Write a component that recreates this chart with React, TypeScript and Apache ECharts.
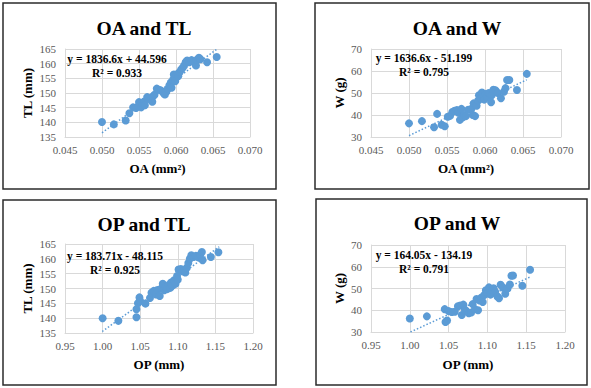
import React, { useEffect, useRef } from "react";
import * as echarts from "echarts";

// ---- Data ----
const oaTL: number[][] = [
  [0.0500,140.1],[0.0516,139.3],[0.0532,140.6],[0.0537,143.1],[0.0542,145.1],[0.0546,144.9],[0.0549,145.5],[0.0550,146.9],
  [0.0553,145.1],[0.0555,146.3],[0.0557,147.1],[0.0558,145.8],[0.0561,148.6],[0.0563,148.2],[0.0566,147.6],[0.0568,147.0],
  [0.0569,148.9],[0.0571,149.4],[0.0574,151.5],[0.0577,151.1],[0.0580,150.8],[0.0583,150.0],[0.0585,149.5],[0.0587,150.4],
  [0.0589,151.4],[0.0591,152.6],[0.0593,153.6],[0.0594,151.8],[0.0596,154.5],[0.0597,156.3],[0.0599,154.0],[0.0601,156.4],
  [0.0603,155.7],[0.0605,157.2],[0.0607,158.0],[0.0609,158.6],[0.0611,159.4],[0.0613,160.5],[0.0615,161.1],[0.0618,160.5],
  [0.0621,161.2],[0.0624,160.6],[0.0627,159.4],[0.0628,161.3],[0.0631,162.0],[0.0633,161.5],[0.0642,160.5],[0.0655,162.3]
];
const oaW: number[][] = [
  [0.0500,36.2],[0.0517,37.2],[0.0533,34.4],[0.0537,40.5],[0.0543,35.6],[0.0547,34.9],[0.0551,39.2],[0.0554,39.6],
  [0.0557,41.4],[0.0560,41.9],[0.0563,42.2],[0.0565,41.0],[0.0567,37.8],[0.0569,42.8],[0.0571,39.0],[0.0573,40.0],
  [0.0575,39.5],[0.0578,42.4],[0.0582,42.8],[0.0584,40.0],[0.0585,45.3],[0.0587,39.5],[0.0589,44.2],[0.0591,46.6],
  [0.0592,49.0],[0.0594,47.5],[0.0596,50.2],[0.0597,48.3],[0.0599,47.0],[0.0601,49.5],[0.0603,48.2],[0.0605,50.0],
  [0.0608,45.8],[0.0609,49.0],[0.0611,51.5],[0.0614,51.2],[0.0617,50.0],[0.0621,47.6],[0.0625,50.6],[0.0627,52.2],
  [0.0629,55.9],[0.0632,55.9],[0.0642,51.4],[0.0655,58.7]
];
const opTL: number[][] = [
  [1.000,140.0],[1.021,139.1],[1.045,140.3],[1.045,143.0],[1.047,145.0],[1.049,147.0],[1.050,145.8],[1.057,144.9],
  [1.063,146.8],[1.065,148.6],[1.068,149.2],[1.071,148.0],[1.073,149.5],[1.076,147.5],[1.078,150.0],[1.080,151.6],
  [1.082,149.4],[1.084,150.6],[1.086,149.8],[1.088,151.2],[1.090,150.2],[1.091,152.0],[1.093,151.0],[1.095,152.8],
  [1.097,151.6],[1.099,154.2],[1.100,153.0],[1.101,156.4],[1.104,156.6],[1.106,155.8],[1.108,156.2],[1.110,155.4],
  [1.112,157.0],[1.114,158.6],[1.116,160.0],[1.118,161.2],[1.121,160.6],[1.124,161.0],[1.127,160.5],[1.130,161.5],
  [1.132,162.3],[1.133,159.5],[1.144,160.6],[1.154,162.2]
];
const opW: number[][] = [
  [1.000,36.2],[1.022,37.2],[1.045,40.5],[1.046,34.6],[1.048,35.3],[1.050,39.6],[1.054,39.2],[1.058,39.3],
  [1.062,41.8],[1.065,42.2],[1.067,37.8],[1.069,42.6],[1.071,40.2],[1.073,39.5],[1.076,38.6],[1.079,39.0],
  [1.081,42.8],[1.084,40.5],[1.086,45.2],[1.088,40.0],[1.090,44.5],[1.092,45.8],[1.094,43.8],[1.096,47.0],
  [1.098,49.2],[1.100,48.0],[1.102,50.5],[1.104,47.2],[1.106,49.3],[1.108,50.1],[1.110,48.5],[1.113,46.3],
  [1.115,45.5],[1.117,51.7],[1.120,50.5],[1.123,47.6],[1.126,50.0],[1.129,51.8],[1.131,55.9],[1.133,56.0],
  [1.145,51.3],[1.155,58.6]
];

const titles = ["OA and TL", "OA and W", "OP and TL", "OP and W"];
const xNames = ["OA (mm\u00B2)", "OA (mm\u00B2)", "OP (mm)", "OP (mm)"];
const yNames = ["TL (mm)", "W (g)", "TL (mm)", "W (g)"];
const equations = ["y = 1836.6x + 44.596", "y = 1636.6x - 51.199", "y = 183.71x - 48.115", "y = 164.05x - 134.19"];
const r2Labels = ["R\u00B2 = 0.933", "R\u00B2 = 0.795", "R\u00B2 = 0.925", "R\u00B2 = 0.791"];
const slopes = [1836.6, 1636.6, 183.71, 164.05];
const intercepts = [44.596, -51.199, -48.115, -134.19];
const trendX = [[0.0500, 0.06556], [0.0500, 0.0655], [0.9995, 1.155], [1.0009, 1.155]];
const xRanges = [[0.045, 0.07, 0.005], [0.045, 0.07, 0.005], [0.95, 1.2, 0.05], [0.95, 1.2, 0.05]];
const yRanges = [[135, 165, 5], [30, 70, 10], [135, 165, 5], [30, 70, 10]];
const datasets = [oaTL, oaW, opTL, opW];

const FONT = "Times New Roman, Liberation Serif, serif";
const BLUE = "#5b9bd5";

// layout (px)
const grids = [
  { left: 65, top: 49, width: 185, height: 88 },
  { left: 371, top: 49, width: 190, height: 88 },
  { left: 65, top: 244, width: 188, height: 89 },
  { left: 371, top: 245, width: 194, height: 87 },
];
const panels = [
  { x: 3, y: 3, w: 273, h: 186 },
  { x: 315, y: 3, w: 274, h: 186 },
  { x: 3, y: 200, w: 273, h: 185 },
  { x: 316, y: 199, w: 271, h: 186 },
];
const titleCenters = [[139, 25], [452, 25], [139, 221], [452, 220]];
const eqCenters = [[117, 59], [424, 58], [115, 256], [424, 255]];
const yNameX = [27, 339, 27, 339];
const xNameY = [168, 168, 364, 364];

export default function App() {
  const ref = useRef<HTMLDivElement>(null);
  useEffect(() => {
    if (!ref.current) return;
    const chart = echarts.init(ref.current, undefined, { renderer: "svg" });
    const xDec = [3, 3, 2, 2];
    const xAxis: any[] = [];
    const yAxis: any[] = [];
    const series: any[] = [];
    const graphic: any[] = [];
    const title: any[] = [];
    for (let i = 0; i < 4; i++) {
      const g = grids[i];
      xAxis.push({
        type: "value", gridIndex: i, min: xRanges[i][0], max: xRanges[i][1], interval: xRanges[i][2],
        axisLine: { show: true, lineStyle: { color: "#d9d9d9", width: 1 } },
        axisTick: { show: false },
        splitLine: { show: true, lineStyle: { color: "#d9d9d9", width: 1 } },
        axisLabel: {
          color: "#595959", fontFamily: FONT, fontSize: 11, margin: 7,
          formatter: (v: number) => v.toFixed(xDec[i]),
        },
      });
      yAxis.push({
        type: "value", gridIndex: i, min: yRanges[i][0], max: yRanges[i][1], interval: yRanges[i][2],
        axisLine: { show: true, lineStyle: { color: "#d9d9d9", width: 1 } },
        axisTick: { show: false },
        splitLine: { show: true, lineStyle: { color: "#d9d9d9", width: 1 } },
        axisLabel: { color: "#595959", fontFamily: FONT, fontSize: 11, margin: 9 },
      });
      series.push({
        type: "scatter", xAxisIndex: i, yAxisIndex: i, data: datasets[i],
        symbolSize: 8, itemStyle: { color: BLUE, opacity: 1 }, z: 3,
      });
      const tl = trendX[i].map((x) => [x, slopes[i] * x + intercepts[i]]);
      series.push({
        type: "line", xAxisIndex: i, yAxisIndex: i, data: tl, symbol: "none",
        lineStyle: { color: BLUE, width: 1.5, type: [1.5, 2] }, z: 2, silent: true,
      });
      title.push({
        text: titles[i], left: titleCenters[i][0], top: titleCenters[i][1] - 12, textAlign: "center",
        textStyle: { fontFamily: FONT, fontSize: 19.5, fontWeight: "bold", color: "#000" },
      });
      graphic.push({
        type: "rect", shape: { x: panels[i].x, y: panels[i].y, width: panels[i].w, height: panels[i].h },
        style: { fill: "none", stroke: "#2b2b2b", lineWidth: 1.5 }, z: 0,
      });
      graphic.push({
        type: "text", x: eqCenters[i][0], y: eqCenters[i][1],
        style: { text: equations[i], fontFamily: FONT, fontSize: 11.5, fontWeight: "bold", fill: "#000", align: "center", verticalAlign: "middle" },
        z: 10,
      });
      graphic.push({
        type: "text", x: eqCenters[i][0], y: eqCenters[i][1] + 13.5,
        style: { text: r2Labels[i], fontFamily: FONT, fontSize: 11.5, fontWeight: "bold", fill: "#000", align: "center", verticalAlign: "middle" },
        z: 10,
      });
      graphic.push({
        type: "text", x: g.left + g.width / 2, y: xNameY[i],
        style: { text: xNames[i], fontFamily: FONT, fontSize: 13, fontWeight: "bold", fill: "#000", align: "center", verticalAlign: "middle" },
      });
      graphic.push({
        type: "text", x: yNameX[i], y: g.top + g.height / 2, rotation: Math.PI / 2,
        style: { text: yNames[i], fontFamily: FONT, fontSize: 13, fontWeight: "bold", fill: "#000", align: "center", verticalAlign: "middle" },
      });
    }
    chart.setOption({
      animation: false,
      backgroundColor: "#fff",
      title,
      grid: grids.map((g) => ({ ...g, containLabel: false })),
      xAxis, yAxis, series, graphic,
    });
    return () => chart.dispose();
  }, []);
  return <div ref={ref} style={{ position: "absolute", left: 0, top: 0, width: 591, height: 388 }} />;
}
